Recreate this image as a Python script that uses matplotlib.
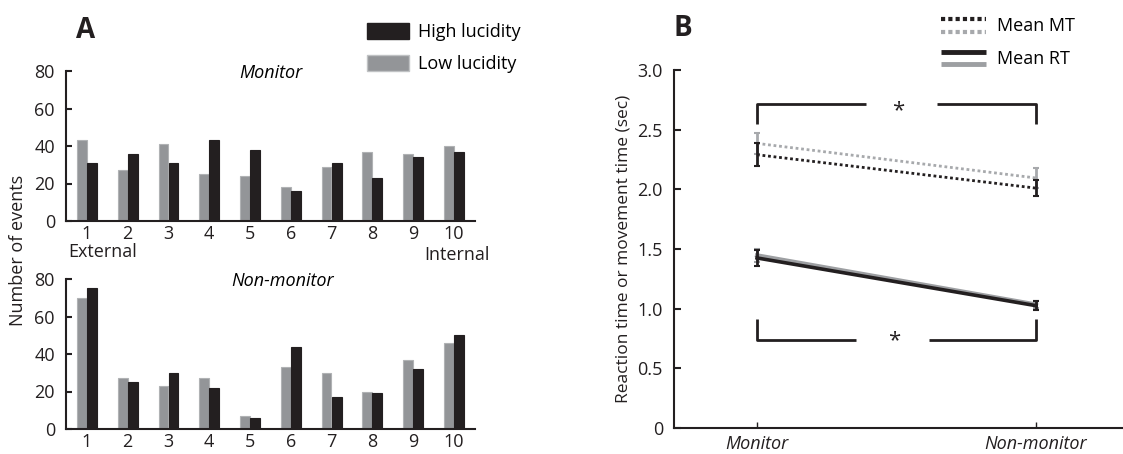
import numpy as np
import matplotlib
matplotlib.use("Agg")
import matplotlib.pyplot as plt
from matplotlib.patches import Patch
from matplotlib.lines import Line2D
from matplotlib.legend_handler import HandlerBase

plt.rcParams['font.family'] = ['Open Sans', 'DejaVu Sans']

# ---------------- data ----------------
categories = [1, 2, 3, 4, 5, 6, 7, 8, 9, 10]
monitor_low = [43, 27, 41, 25, 24, 18, 29, 37, 36, 40]
monitor_high = [31, 36, 31, 43, 38, 16, 31, 23, 34, 37]
nonmon_low = [70, 27, 23, 27, 7, 33, 30, 20, 37, 46]
nonmon_high = [75, 25, 30, 22, 6, 44, 17, 19, 32, 50]
a_yticks = [0, 20, 40, 60, 80]

conditions = ["Monitor", "Non-monitor"]
mt_high = [2.29, 2.01]
mt_high_err = [0.095, 0.07]
mt_low = [2.385, 2.095]
mt_low_err = [0.09, 0.085]
rt_high = [1.425, 1.025]
rt_high_err = [0.07, 0.04]
rt_low = [1.447, 1.035]
rt_low_err = [0.055, 0.03]
b_yticks = [0, 0.5, 1.0, 1.5, 2.0, 2.5, 3.0]
b_yticklabels = ["0", "0.5", "1.0", "1.5", "2.0", "2.5", "3.0"]

GRAY = "#939598"
BLACK = "#231f20"
LGRAY = "#a7a9ac"
FS = 13

W, H = 1123, 454
fig = plt.figure(figsize=(W / 100, H / 100), dpi=100)


def fx(px):
    return px / W


def fy(py):
    return 1 - py / H


def style_a(ax):
    for s in ["top", "right"]:
        ax.spines[s].set_visible(False)
    for s in ["left", "bottom"]:
        ax.spines[s].set_linewidth(1.5)
        ax.spines[s].set_color(BLACK)
    ax.set_ylim(0, 80)
    ax.set_xlim(0.485, 10.52)
    ax.set_yticks(a_yticks)
    ax.set_xticks(categories)
    ax.tick_params(axis='y', direction='in', length=4, width=1.5, labelsize=FS, pad=8, colors=BLACK)
    ax.tick_params(axis='x', direction='in', length=3, width=1.0, labelsize=FS, pad=3, colors=BLACK)


x = np.array(categories, dtype=float)
bw = 0.24
off = 0.125

ax1 = fig.add_axes([fx(66), fy(221), fx(475 - 66), (221 - 71) / H])
ax1.bar(x - off, monitor_low, width=bw, color=GRAY, edgecolor="#b0b2b4", linewidth=0.8, zorder=2)
ax1.bar(x + off, monitor_high, width=bw, color=BLACK, edgecolor=BLACK, linewidth=0.8, zorder=2)
style_a(ax1)
ax1.set_title("Monitor", style='italic', fontsize=FS, y=0.9, x=0.5)

ax2 = fig.add_axes([fx(66), fy(429), fx(475 - 66), (429 - 279) / H])
ax2.bar(x - off, nonmon_low, width=bw, color=GRAY, edgecolor="#b0b2b4", linewidth=0.8, zorder=2)
ax2.bar(x + off, nonmon_high, width=bw, color=BLACK, edgecolor=BLACK, linewidth=0.8, zorder=2)
style_a(ax2)
ax2.set_title("Non-monitor", style='italic', fontsize=FS, y=0.9, x=0.53)

fig.text(fx(68), fy(252), "External", fontsize=FS, ha='left', va='center', color=BLACK)
fig.text(fx(490), fy(255), "Internal", fontsize=FS, ha='right', va='center', color=BLACK)
fig.text(fx(18), fy(250), "Number of events", fontsize=FS, rotation=90, ha='center', va='center', color=BLACK)
fig.text(fx(76), fy(30), "A", fontsize=20, fontweight='bold', ha='left', va='center', color=BLACK)

fig.legend(handles=[Patch(facecolor=BLACK, edgecolor=BLACK), Patch(facecolor=GRAY, edgecolor="#c0c2c4")],
           labels=["High lucidity", "Low lucidity"], loc='upper left',
           bbox_to_anchor=(fx(367), fy(23)), frameon=False, fontsize=FS,
           handlelength=2.3, handleheight=1.0, handletextpad=0.5, labelspacing=0.75,
           borderpad=0, borderaxespad=0)

# ---------------- panel B ----------------
axb = fig.add_axes([fx(674), fy(428), fx(1122 - 674), (428 - 70) / H])
xb = np.array([0.0, 1.0])
axb.errorbar(xb, mt_low, yerr=mt_low_err, color=LGRAY, linestyle=(0, (1, 1)), linewidth=2,
             dash_capstyle='butt', elinewidth=2, capsize=2.5, capthick=1.5, zorder=2)
axb.errorbar(xb, rt_low, yerr=rt_low_err, color="#9d9fa2", linestyle='-', linewidth=3,
             elinewidth=2, capsize=2.5, capthick=1.5, zorder=2)
axb.errorbar(xb, mt_high, yerr=mt_high_err, color=BLACK, linestyle=(0, (1, 1)), linewidth=2,
             dash_capstyle='butt', elinewidth=2, capsize=2.5, capthick=1.5, zorder=3)
axb.errorbar(xb, rt_high, yerr=rt_high_err, color=BLACK, linestyle='-', linewidth=2.6,
             elinewidth=2, capsize=2.5, capthick=1.5, zorder=3)

# significance brackets
bk = dict(color=BLACK, linewidth=2, solid_capstyle='butt')
axb.plot([0, 0, 0.39], [2.55, 2.715, 2.715], **bk)
axb.plot([0.645, 1.0, 1.0], [2.715, 2.715, 2.55], **bk)
axb.text(0.505, 2.655, "*", ha='center', va='center', fontsize=FS + 3, color=BLACK)
axb.plot([0, 0, 0.355], [0.915, 0.741, 0.741], **bk)
axb.plot([0.615, 1.0, 1.0], [0.741, 0.741, 0.915], **bk)
axb.text(0.49, 0.735, "*", ha='center', va='center', fontsize=FS + 3, color=BLACK)

axb.set_xlim(-0.2975, 1.308)
axb.set_ylim(0, 3.0)
axb.set_yticks(b_yticks)
axb.set_yticklabels(b_yticklabels)
axb.set_xticks(xb)
axb.set_xticklabels(conditions, style='italic')
for s in ["top", "right"]:
    axb.spines[s].set_visible(False)
for s in ["left", "bottom"]:
    axb.spines[s].set_linewidth(1.5)
    axb.spines[s].set_color(BLACK)
axb.tick_params(axis='y', direction='in', length=5, width=1.5, labelsize=FS, pad=8, colors=BLACK)
axb.tick_params(axis='x', direction='in', length=4, width=1.0, labelsize=FS, pad=5, colors=BLACK)
axb.set_ylabel("Reaction time or movement time (sec)", fontsize=FS - 0.5, color=BLACK, labelpad=4)
fig.text(fx(674), fy(28), "B", fontsize=20, fontweight='bold', ha='left', va='center', color=BLACK)


class TwoLineHandler(HandlerBase):
    def __init__(self, gap_pt, **kw):
        super().__init__(**kw)
        self.gap = gap_pt

    def create_artists(self, legend, orig_handle, xdescent, ydescent, width, height, fontsize, trans):
        arts = []
        yc = height / 2 - ydescent
        for h, dy in zip(orig_handle, [self.gap / 2, -self.gap / 2]):
            ln = Line2D([-xdescent, width - xdescent], [yc + dy, yc + dy])
            ln.update_from(h)
            ln.set_dash_capstyle('butt')
            ln.set_solid_capstyle('butt')
            ln.set_transform(trans)
            arts.append(ln)
        return arts


mt_handle = (Line2D([], [], color=BLACK, linestyle=(0, (1, 0.75)), linewidth=3),
             Line2D([], [], color=LGRAY, linestyle=(0, (1, 0.75)), linewidth=3))
rt_handle = (Line2D([], [], color=BLACK, linestyle='-', linewidth=3.5),
             Line2D([], [], color="#9d9fa2", linestyle='-', linewidth=3.5))
fig.legend(handles=[mt_handle, rt_handle], labels=["Mean MT", "Mean RT"],
           handler_map={mt_handle: TwoLineHandler(9.4), rt_handle: TwoLineHandler(8.0)},
           loc='upper left',
           bbox_to_anchor=(fx(941), fy(15)), frameon=False, fontsize=FS,
           handlelength=2.5, handleheight=1.4, handletextpad=0.6, labelspacing=0.65,
           borderpad=0, borderaxespad=0)

fig.savefig("out.png", dpi=100)
